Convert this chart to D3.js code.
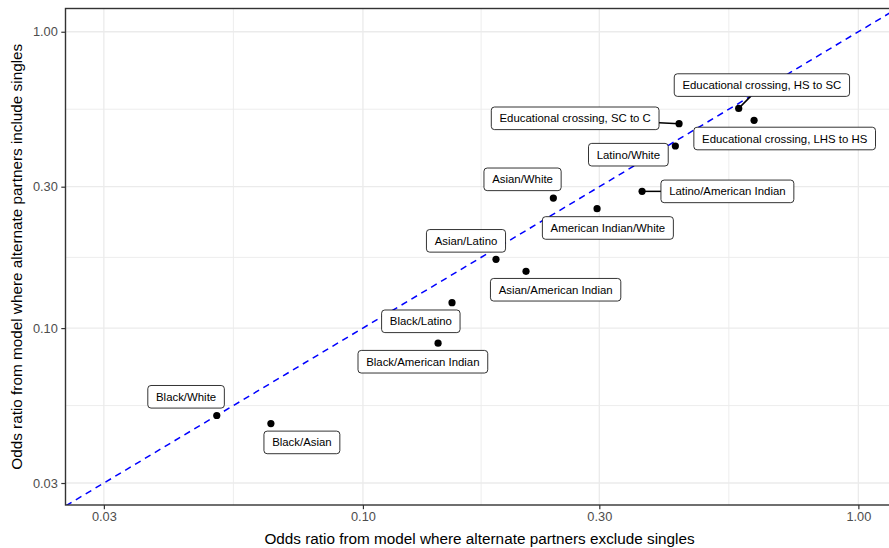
<!DOCTYPE html>
<html>
<head>
<meta charset="utf-8">
<script src="https://cdn.jsdelivr.net/npm/d3@7"></script>
<style>
  html, body { margin: 0; padding: 0; background: #fff; }
  svg { display: block; font-family: "Liberation Sans", Arial, Helvetica, sans-serif; }
</style>
</head>
<body>
<svg id="chart" width="889" height="548"></svg>
<script>
// Intermarriage pairings: odds ratios under two model specifications
const pairs = [
  "Black/White", "Black/Asian", "Black/American Indian", "Black/Latino",
  "Asian/Latino", "Asian/American Indian", "Asian/White", "American Indian/White",
  "Latino/American Indian", "Latino/White", "Educational crossing, SC to C",
  "Educational crossing, HS to SC", "Educational crossing, LHS to HS"
];
// x: alternate partners exclude singles
const oddsExcludeSingles = [0.0507, 0.0652, 0.1418, 0.1513, 0.1856, 0.2134, 0.2423, 0.2969, 0.366, 0.4272, 0.4346, 0.5734, 0.6159];
// y: alternate partners include singles
const oddsIncludeSingles = [0.0507, 0.0476, 0.0889, 0.1218, 0.1706, 0.1554, 0.2747, 0.2529, 0.2893, 0.4116, 0.4894, 0.5513, 0.5025];

const tickValues = [0.03, 0.10, 0.30, 1.00];
const tickLabels = ["0.03", "0.10", "0.30", "1.00"];

// Label placement (pixel offset of each label box centre from its point)
const labelNudge = [
  [-30.7, -18.7], [31, 18.8], [-15.2, 18.5], [-31.2, 18.6],
  [-30, -18.5], [29.6, 18.4], [-30.8, -18.7], [10.8, 19.3],
  [85.3, 0], [-47, 8.7], [-103.9, -5.4],
  [23.2, -23.3], [30.6, 18.2]
];

const panel = { left: 65.5, right: 889, top: 8.5, bottom: 505 };

const svg = d3.select("#chart");

const x = d3.scaleLog().domain([0.0251, 1.153]).range([panel.left, panel.right]);
const y = d3.scaleLog().domain([0.02529, 1.198]).range([panel.bottom, panel.top]);

// Minor breaks sit halfway (in log space) between neighbouring major breaks
const minorOf = vals => d3.pairs(vals).map(([a, b]) => Math.sqrt(a * b));
const minorTicks = minorOf(tickValues);

svg.append("defs").append("clipPath").attr("id", "panel-clip")
  .append("rect")
  .attr("x", panel.left).attr("y", panel.top)
  .attr("width", panel.right - panel.left).attr("height", panel.bottom - panel.top);

const grid = svg.append("g").attr("clip-path", "url(#panel-clip)");

// minor grid
grid.selectAll(".vminor").data(minorTicks).join("line")
  .attr("x1", d => x(d)).attr("x2", d => x(d))
  .attr("y1", panel.top).attr("y2", panel.bottom)
  .attr("stroke", "#ebebeb").attr("stroke-width", 0.9);
grid.selectAll(".hminor").data(minorTicks).join("line")
  .attr("y1", d => y(d)).attr("y2", d => y(d))
  .attr("x1", panel.left).attr("x2", panel.right)
  .attr("stroke", "#ebebeb").attr("stroke-width", 0.9);
// major grid
grid.selectAll(".vmajor").data(tickValues).join("line")
  .attr("x1", d => x(d)).attr("x2", d => x(d))
  .attr("y1", panel.top).attr("y2", panel.bottom)
  .attr("stroke", "#ebebeb").attr("stroke-width", 1.3);
grid.selectAll(".hmajor").data(tickValues).join("line")
  .attr("y1", d => y(d)).attr("y2", d => y(d))
  .attr("x1", panel.left).attr("x2", panel.right)
  .attr("stroke", "#ebebeb").attr("stroke-width", 1.3);

// identity line y = x
const lo = 0.02, hi = 1.5;
grid.append("line")
  .attr("x1", x(lo)).attr("y1", y(lo))
  .attr("x2", x(hi)).attr("y2", y(hi))
  .attr("stroke", "#0000ff").attr("stroke-width", 1.5)
  .attr("stroke-dasharray", "6.5,5");

// points
const data = pairs.map((name, i) => ({
  name, xv: oddsExcludeSingles[i], yv: oddsIncludeSingles[i], nudge: labelNudge[i]
}));

svg.append("g").selectAll("circle").data(data).join("circle")
  .attr("cx", d => x(d.xv)).attr("cy", d => y(d.yv))
  .attr("r", 3.6).attr("fill", "#000");

// labels with leader segments
const fontSize = 11.4, padX = 8.2, boxH = 22.6;
const labels = svg.append("g");
data.forEach(d => {
  const px = x(d.xv), py = y(d.yv);
  const cx = px + d.nudge[0], cy = py + d.nudge[1];
  const g = labels.append("g");
  const t = g.append("text")
    .attr("x", cx).attr("y", cy)
    .attr("text-anchor", "middle").attr("dominant-baseline", "central")
    .attr("font-size", fontSize).attr("fill", "#000")
    .text(d.name);
  const tw = t.node().getComputedTextLength();
  const bw = tw + 2 * padX;
  const bx0 = cx - bw / 2, by0 = cy - boxH / 2;
  // segment from point toward the box centre, stopping at the box edge
  const dx = cx - px, dy = cy - py;
  const outsideX = Math.abs(dx) > bw / 2, outsideY = Math.abs(dy) > boxH / 2;
  let ex = px, ey = py;
  if (outsideX || outsideY) {
    const sx = outsideX ? (Math.abs(dx) - bw / 2) / Math.abs(dx) : 0;
    const sy = outsideY ? (Math.abs(dy) - boxH / 2) / Math.abs(dy) : 0;
    const f = Math.max(sx, sy);
    ex = px + dx * f; ey = py + dy * f;
  }
  const segLen = Math.hypot(ex - px, ey - py);
  if (segLen > 15) {
    g.insert("line", "text")
      .attr("x1", px).attr("y1", py).attr("x2", ex).attr("y2", ey)
      .attr("stroke", "#000").attr("stroke-width", 1.5);
  }
  g.insert("rect", "text")
    .attr("x", bx0).attr("y", by0).attr("width", bw).attr("height", boxH)
    .attr("rx", 3.2).attr("ry", 3.2)
    .attr("fill", "#fff").attr("stroke", "#000").attr("stroke-width", 0.8);
});

// panel border
svg.append("rect")
  .attr("x", panel.left).attr("y", panel.top)
  .attr("width", panel.right + 10 - panel.left).attr("height", panel.bottom - panel.top)
  .attr("fill", "none").attr("stroke", "#333").attr("stroke-width", 1.4);

// axes
const xAxis = svg.append("g").attr("transform", `translate(0,${panel.bottom})`)
  .call(d3.axisBottom(x).tickValues(tickValues).tickFormat((d, i) => tickLabels[i]).tickSize(4.2).tickPadding(3));
const yAxis = svg.append("g").attr("transform", `translate(${panel.left},0)`)
  .call(d3.axisLeft(y).tickValues(tickValues).tickFormat((d, i) => tickLabels[i]).tickSize(4.2).tickPadding(3.5));
[xAxis, yAxis].forEach(a => {
  a.attr("font-size", null).attr("font-family", null);
  a.select(".domain").remove();
  a.selectAll(".tick line").attr("stroke", "#333").attr("stroke-width", 1.2);
  a.selectAll(".tick text").attr("fill", "#4d4d4d").style("font-size", "12.8px")
    .style("font-family", "'Liberation Sans', Arial, sans-serif");
});

// axis titles
svg.append("text")
  .attr("x", 479.5).attr("y", 543.5)
  .attr("text-anchor", "middle").style("font-size", "15.3px").attr("fill", "#000")
  .text("Odds ratio from model where alternate partners exclude singles");
svg.append("text")
  .attr("transform", `translate(21.5,${(panel.top + panel.bottom) / 2}) rotate(-90)`)
  .attr("text-anchor", "middle").style("font-size", "15.3px").attr("fill", "#000")
  .text("Odds ratio from model where alternate partners include singles");
</script>
</body>
</html>
